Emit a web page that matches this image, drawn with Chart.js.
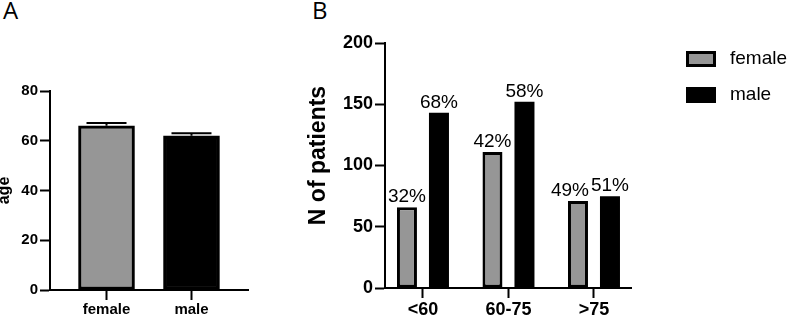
<!DOCTYPE html>
<html><head><meta charset="utf-8">
<script src="https://cdn.jsdelivr.net/npm/chart.js@4.4.1/dist/chart.umd.min.js"></script>
<style>
html,body{margin:0;padding:0;background:#fff;width:787px;height:317px;overflow:hidden;}
.panel{position:absolute;font-family:"Open Sans",sans-serif;font-size:24px;line-height:1;color:#000;}
canvas{position:absolute;top:0;}
</style></head>
<body>
<div class="panel" style="left:3px;top:-2px">A</div>
<div class="panel" style="left:312px;top:-2px">B</div>
<canvas id="chartA" width="260" height="317" style="left:0"></canvas>
<canvas id="chartB" width="487" height="317" style="left:300px"></canvas>
<script>
// ---- Panel A data ----
const sexCategories = ['female', 'male'];
const meanAge = [66, 62];
const semAge = [1.1, 1.0];
const ageTicks = [0, 20, 40, 60, 80];

// ---- Panel B data ----
const ageGroups = ['<60', '60-75', '>75'];
const femaleCounts = [66, 111, 71];
const maleCounts = [143, 152, 75];
const femalePct = ['32%', '42%', '49%'];
const malePct = ['68%', '58%', '51%'];
const countTicks = [0, 50, 100, 150, 200];
const seriesNames = ['female', 'male'];
const countTitle = 'N of patients';

const GRAY = '#969696';
const FAM = '"Liberation Sans", Arial, Helvetica, sans-serif';

function yScale(tickVals, width, title, titleSize, titlePad, tickSize) {
  return {
    type: 'linear',
    min: tickVals[0],
    max: tickVals[tickVals.length - 1],
    afterBuildTicks: s => { s.ticks = tickVals.map(v => ({ value: v })); },
    afterFit: s => { s.width = width; },
    border: { display: true, color: '#000', width: 2 },
    grid: { display: true, drawOnChartArea: false, drawTicks: true, tickLength: 10, tickWidth: 2, tickColor: '#000', color: '#000' },
    ticks: { color: '#000', font: { family: FAM, size: tickSize, weight: 'bold' }, padding: 2 },
    title: { display: !!title, text: title, color: '#000', font: { family: FAM, size: titleSize, weight: 'bold' }, padding: { top: titlePad, bottom: 0 } }
  };
}
function xScale(cats, min, max, height, tickSize) {
  return {
    type: 'linear',
    min: min, max: max, offset: false,
    afterBuildTicks: s => { s.ticks = cats.map((c, i) => ({ value: i })); },
    afterFit: s => { s.height = height; },
    border: { display: true, color: '#000', width: 2 },
    grid: { display: true, offset: false, drawOnChartArea: false, drawTicks: true, tickLength: 10, tickWidth: 2, tickColor: '#000', color: '#000' },
    ticks: { color: '#000', font: { family: FAM, size: tickSize, weight: 'bold' }, padding: 1, autoSkip: false, maxRotation: 0, callback: v => cats[v] }
  };
}

const errorBarPlugin = {
  id: 'errorBars',
  afterDatasetsDraw(chart) {
    const ctx = chart.ctx, ys = chart.scales.y;
    const meta = chart.getDatasetMeta(0);
    ctx.save();
    ctx.strokeStyle = '#000';
    ctx.lineWidth = 2;
    meta.data.forEach((bar, i) => {
      const yTop = ys.getPixelForValue(meanAge[i] + semAge[i]);
      ctx.beginPath();
      ctx.moveTo(bar.x, bar.y);
      ctx.lineTo(bar.x, yTop);
      ctx.moveTo(bar.x - 20, yTop);
      ctx.lineTo(bar.x + 20, yTop);
      ctx.stroke();
    });
    ctx.restore();
  }
};

new Chart(document.getElementById('chartA'), {
  type: 'bar',
  data: {
    datasets: [{
      data: sexCategories.map((c, i) => ({ x: i, y: meanAge[i] })),
      backgroundColor: [GRAY, '#000'],
      borderColor: '#000',
      borderWidth: 3,
      borderSkipped: false,
      barThickness: 56
    }]
  },
  options: {
    responsive: false, animation: false, devicePixelRatio: 1,
    layout: { padding: { top: 91, right: 12, bottom: 0, left: 0 } },
    plugins: { legend: { display: false }, tooltip: { enabled: false } },
    scales: {
      x: xScale(sexCategories, -0.665, 1.665, 27, 15),
      y: yScale(ageTicks, 50, 'age', 16, -5, 15)
    }
  },
  plugins: [errorBarPlugin]
});

const pctPlugin = {
  id: 'pctLabels',
  afterDatasetsDraw(chart) {
    const ctx = chart.ctx;
    const fm = chart.getDatasetMeta(0).data, mm = chart.getDatasetMeta(1).data;
    ctx.save();
    ctx.font = '19px ' + FAM;
    ctx.fillStyle = '#000';
    ctx.textAlign = 'center';
    ctx.textBaseline = 'alphabetic';
    ageGroups.forEach((g, i) => {
      const f = fm[i], m = mm[i];
      const wF = ctx.measureText(femalePct[i]).width, wM = ctx.measureText(malePct[i]).width;
      let xF = f.x, xM = m.x;
      const yF = f.y - 5, yM = m.y - 5;
      const overlap = (xF + wF / 2) - (xM - wM / 2);
      if (Math.abs(yF - yM) < 16 && overlap > -1) xF -= overlap + 2;
      ctx.fillText(femalePct[i], xF, yF);
      ctx.fillText(malePct[i], xM, yM);
    });
    ctx.restore();
  }
};
const legendPlugin = {
  id: 'sideLegend',
  afterDraw(chart) {
    const ctx = chart.ctx;
    ctx.save();
    chart.data.datasets.forEach((ds, i) => {
      const x = chart.chartArea.right + 55, y = 51 + i * 36;
      ctx.fillStyle = ds.backgroundColor;
      ctx.fillRect(x, y, 30, 16);
      if (ds.borderWidth) {
        ctx.strokeStyle = ds.borderColor;
        ctx.lineWidth = ds.borderWidth;
        ctx.strokeRect(x + ds.borderWidth / 2, y + ds.borderWidth / 2, 30 - ds.borderWidth, 16 - ds.borderWidth);
      }
      ctx.fillStyle = '#000';
      ctx.font = '19px ' + FAM;
      ctx.textAlign = 'left';
      ctx.textBaseline = 'middle';
      ctx.fillText(ds.label, x + 44, y + 8);
    });
    ctx.restore();
  }
};
const yTitlePlugin = {
  id: 'yTitleB',
  afterDraw(chart) {
    const ctx = chart.ctx, ca = chart.chartArea;
    ctx.save();
    ctx.translate(19, (ca.top + ca.bottom) / 2 - 10);
    ctx.rotate(-Math.PI / 2);
    ctx.font = 'bold 23px ' + FAM;
    ctx.fillStyle = '#000';
    ctx.textAlign = 'center';
    ctx.textBaseline = 'middle';
    ctx.fillText(countTitle, 0, 0);
    ctx.restore();
  }
};

new Chart(document.getElementById('chartB'), {
  type: 'bar',
  data: {
    datasets: [
      {
        label: seriesNames[0],
        data: ageGroups.map((g, i) => ({ x: i, y: femaleCounts[i] })),
        backgroundColor: GRAY, borderColor: '#000', borderWidth: 3, borderSkipped: false,
        categoryPercentage: 0.7485, barPercentage: 0.625
      },
      {
        label: seriesNames[1],
        data: ageGroups.map((g, i) => ({ x: i, y: maleCounts[i] })),
        backgroundColor: '#000', borderColor: '#000', borderWidth: 0, borderSkipped: false,
        categoryPercentage: 0.7485, barPercentage: 0.625
      }
    ]
  },
  options: {
    responsive: false, animation: false, devicePixelRatio: 1,
    layout: { padding: { top: 43, right: 156, bottom: 0, left: 0 } },
    plugins: { legend: { display: false }, tooltip: { enabled: false } },
    scales: {
      x: xScale(ageGroups, -0.444, 2.433, 29, 18),
      y: yScale(countTicks, 85, '', 22, 6, 18)
    }
  },
  plugins: [pctPlugin, legendPlugin, yTitlePlugin]
});
</script>
</body></html>
